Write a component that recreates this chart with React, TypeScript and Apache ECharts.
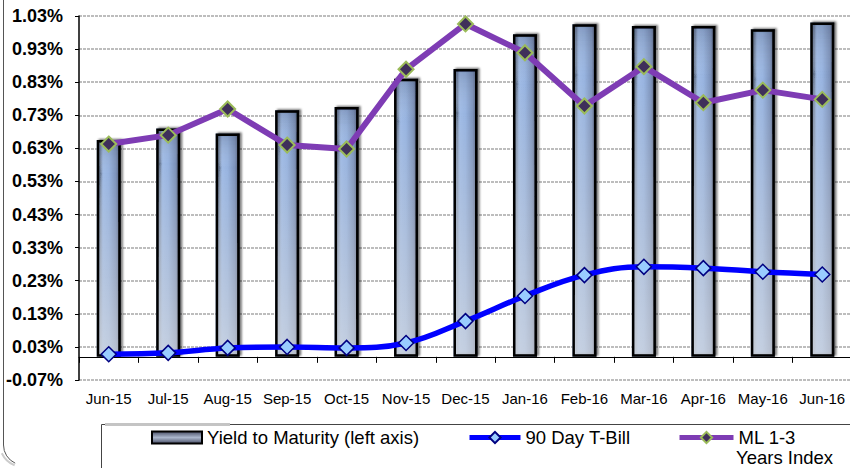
import React, { useEffect, useRef } from "react";
import * as echarts from "echarts";

const categories = ["Jun-15", "Jul-15", "Aug-15", "Sep-15", "Oct-15", "Nov-15", "Dec-15", "Jan-16", "Feb-16", "Mar-16", "Apr-16", "May-16", "Jun-16"];
const yieldToMaturity = [0.655, 0.69, 0.675, 0.745, 0.755, 0.84, 0.87, 0.975, 1.005, 1.0, 1.0, 0.99, 1.01];
const tBill90 = [0.008, 0.012, 0.027, 0.03, 0.027, 0.042, 0.108, 0.184, 0.247, 0.272, 0.268, 0.257, 0.249];
const ml13 = [0.643, 0.67, 0.749, 0.64, 0.628, 0.869, 1.006, 0.919, 0.758, 0.877, 0.768, 0.806, 0.778];
const yMin = -0.07;
const yMax = 1.03;
const yStep = 0.1;

const NAME_YTM = "Yield to Maturity (left axis)";
const NAME_TB = "90 Day T-Bill";
const NAME_ML = "ML 1-3 Years Index";

const FONT = "'Liberation Sans', Arial, sans-serif";

export default function App() {
  const ref = useRef<HTMLDivElement>(null);
  useEffect(() => {
    if (!ref.current) return;
    const chart = echarts.init(ref.current, undefined, { renderer: "svg" });
    const barFill = new echarts.graphic.LinearGradient(0, 0, 1, 0, [
      { offset: 0, color: "#aac4ec" },
      { offset: 0.5, color: "#98b4e0" },
      { offset: 0.8, color: "#7d93bb" },
      { offset: 1, color: "#4c536a" },
    ]);
    const barOverlay = new echarts.graphic.LinearGradient(0, 0, 0, 1, [
      { offset: 0, color: "rgba(60,70,100,0.15)" },
      { offset: 0.15, color: "rgba(255,255,255,0)" },
      { offset: 1, color: "rgba(255,255,255,0.45)" },
    ]);
    const legendBarFill = new echarts.graphic.LinearGradient(0, 0, 0, 1, [
      { offset: 0, color: "#4a5068" },
      { offset: 0.5, color: "#aab6cc" },
      { offset: 1, color: "#4a5068" },
    ]);
    const legendText = { fontSize: 18.5, color: "#000", fontFamily: FONT };
    const option: any = {
      animation: false,
      textStyle: { fontFamily: FONT },
      grid: { left: 79, right: -2, top: 16, bottom: 88, outerBoundsMode: "none" },
      legend: [
        {
          data: [{ name: NAME_YTM, itemStyle: { color: legendBarFill, borderColor: "#000", borderWidth: 2 } }],
          left: 151,
          top: 428,
          padding: 0,
          icon: "rect",
          itemWidth: 50,
          itemHeight: 12,
          selectedMode: false,
          textStyle: legendText,
        },
        {
          data: [NAME_TB],
          left: 467,
          top: 428,
          padding: 0,
          itemWidth: 51,
          itemHeight: 14,
          selectedMode: false,
          lineStyle: { width: 5 },
          textStyle: legendText,
        },
        {
          data: [NAME_ML],
          left: 677,
          top: 428,
          padding: 0,
          itemWidth: 54,
          itemHeight: 14,
          selectedMode: false,
          lineStyle: { width: 5 },
          formatter: () => "ML 1-3",
          textStyle: legendText,
        },
      ],
      xAxis: {
        type: "category",
        data: categories,
        boundaryGap: true,
        axisLine: { onZero: true, lineStyle: { color: "#000", width: 1 } },
        axisTick: { show: true, interval: 0, length: 6, lineStyle: { color: "#000" } },
        axisLabel: { interval: 0, margin: 11, fontSize: 15, color: "#000", fontFamily: FONT },
        splitLine: { show: false },
      },
      yAxis: {
        type: "value",
        min: yMin,
        max: yMax,
        interval: yStep,
        axisLine: { show: true, lineStyle: { color: "#000", width: 1.5 } },
        axisTick: { show: true, length: 4, lineStyle: { color: "#000" } },
        axisLabel: {
          fontSize: 18,
          fontWeight: "bold",
          color: "#000",
          margin: 16,
          fontFamily: FONT,
          formatter: (v: number) => v.toFixed(2) + "%",
        },
        splitLine: { show: true, lineStyle: { color: "#a8a8a8", width: 1.5, type: [3, 1] } },
      },
      graphic: [
        { type: "line", shape: { x1: 3.5, y1: 0, x2: 3.5, y2: 445 }, style: { stroke: "#555", lineWidth: 1 } },
        { type: "arc", shape: { cx: 23.5, cy: 445, r: 20, startAngle: 2.0, endAngle: Math.PI }, style: { stroke: "#555", fill: "none", lineWidth: 1 } },
        { type: "arc", shape: { cx: 23.5, cy: 443, r: 24, startAngle: 1.95, endAngle: 2.7 }, style: { stroke: "#ccc", fill: "none", lineWidth: 2 } },
        { type: "polyline", shape: { points: [[101.5, 468], [101.5, 424.5], [105, 424.5]] }, style: { stroke: "#444", fill: "none", lineWidth: 1 } },
        { type: "rect", shape: { x: 105, y: 423, width: 125, height: 3 }, style: { fill: "#c4c4c4" } },
        { type: "line", shape: { x1: 230, y1: 424.5, x2: 850, y2: 424.5 }, style: { stroke: "#444", lineWidth: 1 } },
        {
          type: "text",
          left: 736,
          top: 448,
          style: { text: "Years Index", fontSize: 18.5, fill: "#000", fontFamily: FONT },
        },
      ],
      series: [
        {
          name: NAME_YTM,
          type: "bar",
          data: yieldToMaturity,
          barWidth: 24,
          itemStyle: { color: barFill },
          z: 2,
        },
        {
          name: "ytm-shade",
          type: "bar",
          data: yieldToMaturity,
          barWidth: 24,
          barGap: "-100%",
          silent: true,
          itemStyle: {
            color: barOverlay,
            borderColor: "#000",
            borderWidth: 2.5,
            shadowColor: "rgba(0,0,0,0.6)",
            shadowBlur: 2,
            shadowOffsetX: 2,
            shadowOffsetY: -1,
          },
          z: 3,
        },
        {
          name: NAME_TB,
          type: "line",
          data: tBill90,
          smooth: 0.4,
          symbol: "diamond",
          symbolSize: 15,
          lineStyle: { color: "#0000ff", width: 5.5 },
          itemStyle: { color: "#99ccff", borderColor: "#000080", borderWidth: 1.5 },
          z: 5,
        },
        {
          name: NAME_ML,
          type: "line",
          data: ml13,
          symbol: "diamond",
          symbolSize: 15,
          lineStyle: { color: "#7e3cb4", width: 6 },
          itemStyle: { color: "#3f2f5a", borderColor: "#9bbb59", borderWidth: 2 },
          z: 6,
        },
      ],
    };
    chart.setOption(option);
    return () => chart.dispose();
  }, []);
  return (
    <div
      ref={ref}
      style={{ position: "absolute", left: 0, top: 0, width: 850, height: 468, background: "#fff" }}
    />
  );
}
